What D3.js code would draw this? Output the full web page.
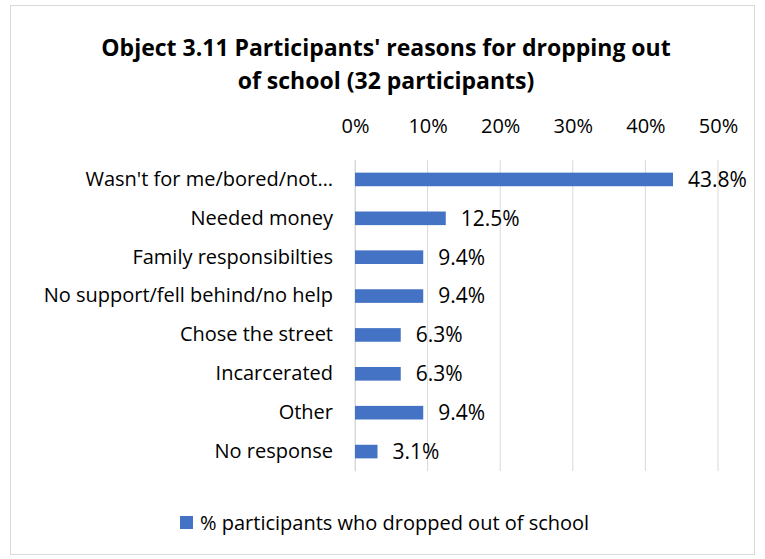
<!DOCTYPE html>
<html>
<head>
<meta charset="utf-8">
<script src="https://cdn.jsdelivr.net/npm/d3@7"></script>
<style>
  html, body { margin: 0; padding: 0; background: #fff; }
  svg { display: block; font-family: "Open Sans", sans-serif; }
</style>
</head>
<body>
<svg id="chart" width="765" height="559"></svg>
<script>
// Reasons for dropping out, in display order (top to bottom)
const categories = [
  "Wasn't for me/bored/not\u2026",
  "Needed money",
  "Family responsibilties",
  "No support/fell behind/no help",
  "Chose the street",
  "Incarcerated",
  "Other",
  "No response"
];
const values = [43.8, 12.5, 9.4, 9.4, 6.3, 6.3, 9.4, 3.1];
const tickValues = [0, 10, 20, 30, 40, 50];
const seriesName = "% participants who dropped out of school";
const titleLines = [
  "Object 3.11 Participants' reasons for dropping out",
  "of school (32 participants)"
];

const W = 765, H = 559;
const svg = d3.select("#chart");
const barColor = "#4472C4";
const font = "'Open Sans', sans-serif";
const labelSize = 20;

// Chart frame
svg.append("rect")
  .attr("x", 10.5).attr("y", 5.5)
  .attr("width", W - 21).attr("height", H - 10)
  .attr("fill", "#fff").attr("stroke", "#d9d9d9").attr("stroke-width", 1);

// Title
svg.append("g").selectAll("text").data(titleLines).join("text")
  .attr("x", 386).attr("y", (d, i) => 56 + i * 33)
  .attr("text-anchor", "middle")
  .attr("font-size", 23).attr("font-weight", "bold").attr("fill", "#000")
  .text(d => d);

const plot = { left: 355, right: 718, top: 160, bottom: 471 };

const x = d3.scaleLinear().domain([0, 50]).range([plot.left, plot.right]);
const y = d3.scaleBand().domain(categories)
  .range([plot.top, plot.bottom]).paddingInner(0.65).paddingOuter(0.325);

// Vertical gridlines
svg.append("g").selectAll("line").data(tickValues).join("line")
  .attr("x1", d => x(d)).attr("x2", d => x(d))
  .attr("y1", plot.top).attr("y2", plot.bottom)
  .attr("stroke", "#d9d9d9").attr("stroke-width", 1);

// Top axis labels
const xAxis = d3.axisTop(x).tickValues(tickValues)
  .tickFormat(d => d + "%").tickSize(0).tickPadding(0);
const gx = svg.append("g").attr("transform", `translate(0, 133)`).call(xAxis);
gx.select(".domain").remove();
gx.selectAll("text").attr("font-size", labelSize).attr("fill", "#000")
  .attr("font-family", font);

// Category axis labels
const yAxis = d3.axisLeft(y).tickSize(0).tickPadding(22);
const gy = svg.append("g").attr("transform", `translate(${plot.left}, 0)`).call(yAxis);
gy.select(".domain").attr("stroke", "#d9d9d9");
gy.selectAll("text").attr("font-size", labelSize).attr("fill", "#000")
  .attr("font-family", font);

// Bars
svg.append("g").selectAll("rect").data(values).join("rect")
  .attr("x", x(0))
  .attr("y", (d, i) => y(categories[i]))
  .attr("width", d => x(d) - x(0))
  .attr("height", y.bandwidth())
  .attr("fill", barColor);

// Value labels
svg.append("g").selectAll("text").data(values).join("text")
  .attr("x", d => x(d) + 15)
  .attr("y", (d, i) => y(categories[i]) + y.bandwidth() / 2)
  .attr("dy", "0.35em")
  .attr("font-size", 21).attr("fill", "#000")
  .text(d => d.toFixed(1) + "%");

// Legend
const lg = svg.append("g").attr("transform", "translate(180, 516)");
lg.append("rect").attr("width", 13).attr("height", 13).attr("fill", barColor);
lg.append("text").attr("x", 20).attr("y", 7).attr("dy", "0.35em")
  .attr("font-size", labelSize).attr("fill", "#000").text(seriesName);
</script>
</body>
</html>
